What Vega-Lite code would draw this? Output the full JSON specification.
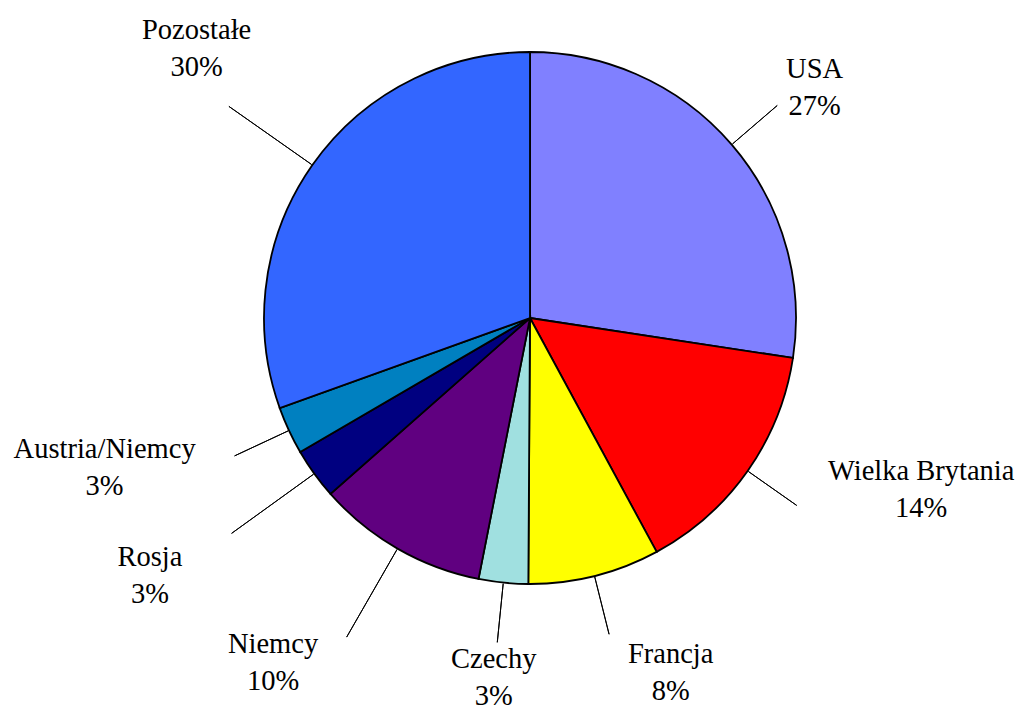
{
  "$schema": "https://vega.github.io/schema/vega-lite/v6.json",
  "width": 998,
  "height": 636,
  "autosize": {"type": "none"},
  "padding": {"left": 31, "top": 0, "right": 0, "bottom": 73},
  "background": "white",
  "config": {
    "view": {"stroke": null},
    "text": {"font": "Liberation Serif", "fontSize": 28.5, "lineBreak": "\n", "lineHeight": 37, "align": "center", "baseline": "middle", "dy": -18.5, "color": "#000000"}
  },
  "data": {
    "values": [
      {"k": 1, "name": "USA", "pct": "27%", "value": 27.4},
      {"k": 2, "name": "Wielka Brytania", "pct": "14%", "value": 14.7},
      {"k": 3, "name": "Francja", "pct": "8%", "value": 8.0},
      {"k": 4, "name": "Czechy", "pct": "3%", "value": 3.0},
      {"k": 5, "name": "Niemcy", "pct": "10%", "value": 10.4},
      {"k": 6, "name": "Rosja", "pct": "3%", "value": 3.1},
      {"k": 7, "name": "Austria/Niemcy", "pct": "3%", "value": 2.9},
      {"k": 8, "name": "Pozostałe", "pct": "30%", "value": 30.5}
    ]
  },
  "transform": [
    {"window": [{"op": "sum", "field": "value", "as": "cum"}], "sort": [{"field": "k"}], "frame": [null, 0]},
    {"calculate": "datum.cum - datum.value", "as": "start"},
    {"calculate": "datum.cum - datum.value / 2", "as": "mid"},
    {"calculate": "datum.name + '\\n' + datum.pct", "as": "label"}
  ],
  "layer": [
    {
      "mark": {"type": "arc", "outerRadius": 266, "stroke": "#000000", "strokeWidth": 1.8},
      "encoding": {
        "theta": {"field": "start", "type": "quantitative", "stack": null, "scale": {"domain": [0, 100]}},
        "theta2": {"field": "cum"},
        "color": {
          "field": "name",
          "type": "nominal",
          "legend": null,
          "scale": {
            "domain": ["USA", "Wielka Brytania", "Francja", "Czechy", "Niemcy", "Rosja", "Austria/Niemcy", "Pozostałe"],
            "range": ["#8080FF", "#FF0000", "#FFFF00", "#A0E0E0", "#600080", "#000080", "#0080C0", "#3366FF"]
          }
        }
      }
    },
    {
      "transform": [{"filter": {"field": "name", "oneOf": ["USA", "Wielka Brytania", "Francja", "Czechy", "Austria/Niemcy"]}}],
      "mark": {"type": "arc", "innerRadius": 267, "outerRadius": 326, "filled": false, "stroke": "#000000", "strokeWidth": 1},
      "encoding": {
        "theta": {"field": "mid", "type": "quantitative", "stack": null, "scale": {"domain": [0, 100]}},
        "theta2": {"field": "mid"}
      }
    },
    {
      "transform": [{"filter": {"field": "name", "oneOf": ["Niemcy", "Rosja", "Pozostałe"]}}],
      "mark": {"type": "arc", "innerRadius": 267, "outerRadius": 368, "filled": false, "stroke": "#000000", "strokeWidth": 1},
      "encoding": {
        "theta": {"field": "mid", "type": "quantitative", "stack": null, "scale": {"domain": [0, 100]}},
        "theta2": {"field": "mid"}
      }
    },
    {
      "transform": [{"filter": {"field": "name", "equal": "USA"}}],
      "mark": {"type": "text", "radius": 366, "thetaOffset": 0.03},
      "encoding": {
        "theta": {"field": "mid", "type": "quantitative", "stack": null, "scale": {"domain": [0, 100]}},
        "text": {"field": "label", "type": "nominal"}
      }
    },
    {
      "transform": [{"filter": {"field": "name", "equal": "Wielka Brytania"}}],
      "mark": {"type": "text", "radius": 427, "thetaOffset": -0.2},
      "encoding": {
        "theta": {"field": "mid", "type": "quantitative", "stack": null, "scale": {"domain": [0, 100]}},
        "text": {"field": "label", "type": "nominal"}
      }
    },
    {
      "transform": [{"filter": {"field": "name", "equal": "Francja"}}],
      "mark": {"type": "text", "radius": 381, "thetaOffset": -0.133},
      "encoding": {
        "theta": {"field": "mid", "type": "quantitative", "stack": null, "scale": {"domain": [0, 100]}},
        "text": {"field": "label", "type": "nominal"}
      }
    },
    {
      "transform": [{"filter": {"field": "name", "equal": "Czechy"}}],
      "mark": {"type": "text", "radius": 361},
      "encoding": {
        "theta": {"field": "mid", "type": "quantitative", "stack": null, "scale": {"domain": [0, 100]}},
        "text": {"field": "label", "type": "nominal"}
      }
    },
    {
      "transform": [{"filter": {"field": "name", "equal": "Niemcy"}}],
      "mark": {"type": "text", "radius": 430, "thetaOffset": 0.119},
      "encoding": {
        "theta": {"field": "mid", "type": "quantitative", "stack": null, "scale": {"domain": [0, 100]}},
        "text": {"field": "label", "type": "nominal"}
      }
    },
    {
      "transform": [{"filter": {"field": "name", "equal": "Rosja"}}],
      "mark": {"type": "text", "radius": 459, "thetaOffset": 0.03},
      "encoding": {
        "theta": {"field": "mid", "type": "quantitative", "stack": null, "scale": {"domain": [0, 100]}},
        "text": {"field": "label", "type": "nominal"}
      }
    },
    {
      "transform": [{"filter": {"field": "name", "equal": "Austria/Niemcy"}}],
      "mark": {"type": "text", "radius": 451, "thetaOffset": 0.098},
      "encoding": {
        "theta": {"field": "mid", "type": "quantitative", "stack": null, "scale": {"domain": [0, 100]}},
        "text": {"field": "label", "type": "nominal"}
      }
    },
    {
      "transform": [{"filter": {"field": "name", "equal": "Pozostałe"}}],
      "mark": {"type": "text", "radius": 429, "thetaOffset": 0.068},
      "encoding": {
        "theta": {"field": "mid", "type": "quantitative", "stack": null, "scale": {"domain": [0, 100]}},
        "text": {"field": "label", "type": "nominal"}
      }
    }
  ]
}
